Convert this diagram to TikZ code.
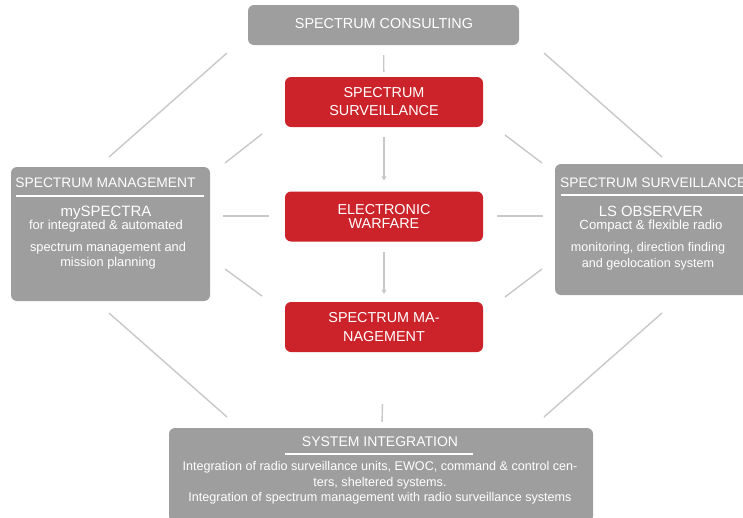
\documentclass[tikz,border=0pt]{standalone}
\usepackage{fontspec}
\setmainfont{Liberation Sans}
\usetikzlibrary{positioning}
\usetikzlibrary{arrows.meta}

\definecolor{boxgray}{RGB}{158,158,158}
\definecolor{boxred}{RGB}{204,35,42}
\definecolor{linkgray}{RGB}{200,200,200}

\begin{document}
\begin{tikzpicture}[x=1pt, y=-1pt,
    graybox/.style={fill=boxgray, rounded corners=6pt, inner sep=0pt},
    redbox/.style={fill=boxred, rounded corners=6pt, inner sep=0pt,
        minimum width=198pt, minimum height=50pt, text=white, align=center,
        font=\fontsize{14.4}{18}\selectfont},
    boxtext/.style={text=white, align=center, inner sep=0pt},
    link/.style={draw=linkgray, line width=1.4pt},
    flow/.style={link, -{Triangle[width=5pt, length=4pt]}}]

    % Fix the page size
    \useasboundingbox (0,0) rectangle (743,517);
    \clip (0,0) rectangle (743,517);

    % Draw boxes
    \node[graybox, minimum width=271pt, minimum height=40pt] (consult) at (383.5,25) {};
    \node[graybox, minimum width=199pt, minimum height=134pt] (mgmt) at (110.5,234) {};
    \node[graybox, minimum width=199pt, minimum height=131pt] (surv) at (654.5,229.5) {};
    \node[graybox, minimum width=424pt, minimum height=94pt] (integ) at (381,475) {};

    \node[redbox] (redsurv) at (384,102) {SPECTRUM\\SURVEILLANCE};
    \node[redbox, font=\fontsize{14.4}{14}\selectfont] (redew) at (384,216.5) {ELECTRONIC\\WARFARE};
    \node[redbox, font=\fontsize{14.4}{19}\selectfont] (redmgmt) at (384,327) {SPECTRUM MA-\\NAGEMENT};

    % Add labels
    \node[boxtext, font=\fontsize{14.4}{16}\selectfont] (consulttext) at (384,24) {SPECTRUM CONSULTING};

    \node[boxtext, font=\fontsize{13.8}{16}\selectfont] (mgmttitle) at (105.5,183) {SPECTRUM MANAGEMENT};
    \node[boxtext, font=\fontsize{13}{13}\selectfont] (mgmthead) at (106,219) {{\fontsize{15}{14}\selectfont mySPECTRA}\\for integrated \& automated};
    \node[boxtext, font=\fontsize{12.8}{15}\selectfont] (mgmtbody) at (108,256) {spectrum management and\\mission planning};

    \node[boxtext, font=\fontsize{13.8}{16}\selectfont, anchor=west] (survtitle) at (560,183) {SPECTRUM SURVEILLANCE};
    \node[boxtext, font=\fontsize{13.2}{13}\selectfont] (survhead) at (651,219) {{\fontsize{14.8}{14}\selectfont LS OBSERVER}\\Compact \& flexible radio};
    \node[boxtext, font=\fontsize{12.6}{15.5}\selectfont] (survbody) at (648,256) {monitoring, direction finding\\and geolocation system};

    \node[boxtext, font=\fontsize{14}{16}\selectfont] (integtitle) at (380,442) {SYSTEM INTEGRATION};
    \node[boxtext, font=\fontsize{12.6}{15.5}\selectfont] (integbody) at (380,483) {Integration of radio surveillance units, EWOC, command \& control cen-\\ters, sheltered systems.\\Integration of spectrum management with radio surveillance systems};

    % Underlines
    \draw[white, line width=1.2pt] (16,196) -- (204,196);
    \draw[white, line width=1.2pt] (561,195) -- (743,195);
    \draw[white, line width=1.2pt] (285,454) -- (473,454);

    % Ends of the free links
    \coordinate (tl1) at (227,53);  \coordinate (tl2) at (109,157);
    \coordinate (tr1) at (544,53);  \coordinate (tr2) at (662,157);
    \coordinate (bl1) at (109,313); \coordinate (bl2) at (227,417);
    \coordinate (br1) at (662,313); \coordinate (br2) at (544,417);
    \coordinate (la1) at (225,163); \coordinate (la2) at (262,134);
    \coordinate (lb1) at (223,216); \coordinate (lb2) at (269,216);
    \coordinate (lc1) at (225,269); \coordinate (lc2) at (262,296);
    \coordinate (ra1) at (542,163); \coordinate (ra2) at (505,135);
    \coordinate (rb1) at (543,216); \coordinate (rb2) at (497,216);
    \coordinate (rc1) at (542,269); \coordinate (rc2) at (505,297);

    % Loop through each pair and draw the link
    \foreach \a/\b in {tl1/tl2, tr1/tr2, bl1/bl2, br1/br2,
        la1/la2, lb1/lb2, lc1/lc2, ra1/ra2, rb1/rb2, rc1/rc2} {
        \draw[link] (\a) -- (\b);
    }

    % Vertical links
    \draw[link, shorten <=10pt, shorten >=5pt] (consult) -- (redsurv);
    \draw[flow, shorten <=10pt, shorten >=11pt] (redsurv) -- (redew);
    \draw[flow, shorten <=10pt, shorten >=8pt] (redew) -- (redmgmt);
    \draw[link, shorten <=52pt, shorten >=6pt] (redmgmt) -- (integ);

\end{tikzpicture}
\end{document}
